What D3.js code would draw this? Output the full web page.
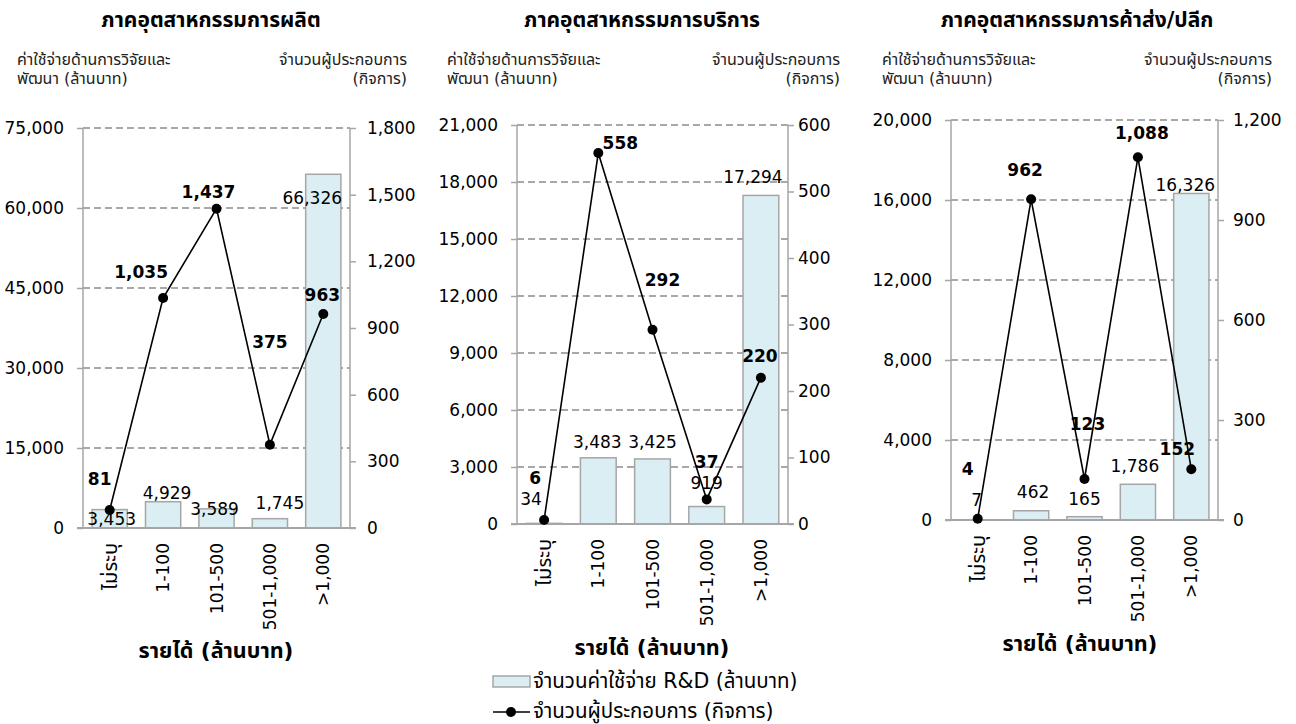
<!DOCTYPE html>
<html>
<head>
<meta charset="utf-8">
<script src="https://cdn.jsdelivr.net/npm/d3@7"></script>
<style>
  html, body { margin: 0; padding: 0; background: #ffffff; }
  svg { display: block; font-family: "DejaVu Sans", "Noto Sans Thai", "Noto Sans", sans-serif; }
</style>
</head>
<body>
<svg id="chart" width="1296" height="724"></svg>
<script>
// Revenue bands (million baht)
const categories = ["ไม่ระบุ", "1-100", "101-500", "501-1,000", ">1,000"];

const panelTitles = ["ภาคอุตสาหกรรมการผลิต", "ภาคอุตสาหกรรมการบริการ", "ภาคอุตสาหกรรมการค้าส่ง/ปลีก"];

// R&D spending (million baht) per revenue band
const rdManufacturing = [3453, 4929, 3589, 1745, 66326];
const rdServices      = [34, 3483, 3425, 919, 17294];
const rdTrade         = [7, 462, 165, 1786, 16326];

// Number of firms per revenue band
const firmsManufacturing = [81, 1035, 1437, 375, 963];
const firmsServices      = [6, 558, 292, 37, 220];
const firmsTrade         = [4, 962, 123, 1088, 152];

// Axis ticks
const leftTicksManufacturing  = [0, 15000, 30000, 45000, 60000, 75000];
const leftTicksServices       = [0, 3000, 6000, 9000, 12000, 15000, 18000, 21000];
const leftTicksTrade          = [0, 4000, 8000, 12000, 16000, 20000];
const rightTicksManufacturing = [0, 300, 600, 900, 1200, 1500, 1800];
const rightTicksServices      = [0, 100, 200, 300, 400, 500, 600];
const rightTicksTrade         = [0, 300, 600, 900, 1200];

const leftAxisNote  = ["ค่าใช้จ่ายด้านการวิจัยและ", "พัฒนา (ล้านบาท)"];
const rightAxisNote = ["จำนวนผู้ประกอบการ", "(กิจการ)"];
const xAxisTitle = "รายได้ (ล้านบาท)";
const legendBar  = "จำนวนค่าใช้จ่าย R&D (ล้านบาท)";
const legendLine = "จำนวนผู้ประกอบการ (กิจการ)";

const panels = [
  { title: panelTitles[0], bars: rdManufacturing, line: firmsManufacturing, leftTicks: leftTicksManufacturing, rightTicks: rightTicksManufacturing },
  { title: panelTitles[1], bars: rdServices,      line: firmsServices,      leftTicks: leftTicksServices,      rightTicks: rightTicksServices },
  { title: panelTitles[2], bars: rdTrade,         line: firmsTrade,         leftTicks: leftTicksTrade,         rightTicks: rightTicksTrade }
];

// Plot frames and text placement for each panel
const layout = [
  { x0: 83,  x1: 350,  y0: 128, y1: 528, titleX: 211,  noteL: 17,  noteR: 407,  xTitleX: 216,  xTitleY: 650, rightGap: 17 },
  { x0: 517, x1: 788,  y0: 125, y1: 524, titleX: 642,  noteL: 447, noteR: 840,  xTitleX: 652,  xTitleY: 647, rightGap: 10 },
  { x0: 951, x1: 1218, y0: 120, y1: 520, titleX: 1077, noteL: 882, noteR: 1272, xTitleX: 1080, xTitleY: 643, rightGap: 15 }
];

// Data label nudges [dx, dy] from the point / bar top
const lineLabelNudge = [
  [[-10, -31], [-22, -26], [-8, -17], [0, -103], [-1, -19]],
  [[-9, -42], [22, -10], [10, -50], [0, -37], [-1, -22]],
  [[-10, -50], [-6, -29], [3, -55], [4, -24], [-14, -20]]
];
const barLabelNudge = [
  [[2, 9], [4, -9], [-2, 0], [10, -16], [-11, 24]],
  [[-13, -24], [-1, -16], [0, -17], [0, -24], [-8, -18]],
  [[-1, -20], [2, -19], [0, -18], [-3, -18], [-6, -8]]
];

const FONT = '"DejaVu Sans", "Noto Sans Thai", "Noto Sans", sans-serif';
const fmt = d3.format(",");
const isThai = s => /[\u0E00-\u0E7F]/.test(s);
const svg = d3.select("#chart");

const AXIS = "#a6a6a6";
const GRID = "#8c8c8c";
const BAR_FILL = "#daeef3";

panels.forEach((p, i) => {
  const L = layout[i];
  const g = svg.append("g");

  const x = d3.scaleBand().domain(categories).range([L.x0, L.x1]).paddingInner(0.34).paddingOuter(0.17);
  const yL = d3.scaleLinear().domain([0, d3.max(p.leftTicks)]).range([L.y1, L.y0]);
  const yR = d3.scaleLinear().domain([0, d3.max(p.rightTicks)]).range([L.y1, L.y0]);
  const cx = c => x(c) + x.bandwidth() / 2;

  // Title and axis notes
  g.append("text").attr("x", L.titleX).attr("y", 20).attr("text-anchor", "middle")
    .attr("dominant-baseline", "central").attr("font-size", 21).attr("font-weight", "bold")
    .attr("fill", "#000").text(p.title);
  leftAxisNote.forEach((t, k) => {
    g.append("text").attr("x", L.noteL).attr("y", 59 + k * 19).attr("dominant-baseline", "central")
      .attr("font-size", 16).attr("fill", "#222").text(t);
  });
  rightAxisNote.forEach((t, k) => {
    g.append("text").attr("x", L.noteR).attr("y", 59 + k * 19).attr("text-anchor", "end")
      .attr("dominant-baseline", "central").attr("font-size", 16).attr("fill", "#222").text(t);
  });

  // Dashed gridlines on the left-axis ticks
  g.append("g").selectAll("line").data(p.leftTicks.filter(v => v > 0)).join("line")
    .attr("x1", L.x0).attr("x2", L.x1)
    .attr("y1", d => yL(d)).attr("y2", d => yL(d))
    .attr("stroke", GRID).attr("stroke-width", 1.3).attr("stroke-dasharray", "7,4");

  // Bars
  g.append("g").selectAll("rect").data(p.bars).join("rect")
    .attr("x", (d, j) => x(categories[j]))
    .attr("y", d => yL(d))
    .attr("width", x.bandwidth())
    .attr("height", d => yL(0) - yL(d))
    .attr("fill", BAR_FILL).attr("stroke", AXIS).attr("stroke-width", 1.5);

  // Left axis
  const leftAxis = d3.axisLeft(yL).tickValues(p.leftTicks).tickFormat(fmt).tickSize(6).tickPadding(13);
  const la = g.append("g").attr("transform", `translate(${L.x0},0)`).call(leftAxis).attr("font-family", FONT);
  la.select(".domain").attr("stroke", AXIS).attr("stroke-width", 1.5).attr("d", `M0,${L.y0}V${L.y1}`);
  la.selectAll(".tick line").attr("stroke", AXIS).attr("stroke-width", 1.5);
  la.selectAll(".tick text").attr("font-size", 17).attr("fill", "#000");

  // Right axis
  const rightAxis = d3.axisRight(yR).tickValues(p.rightTicks).tickFormat(fmt).tickSize(6).tickPadding(L.rightGap - 6);
  const ra = g.append("g").attr("transform", `translate(${L.x1},0)`).call(rightAxis).attr("font-family", FONT);
  ra.select(".domain").attr("stroke", AXIS).attr("stroke-width", 1.5).attr("d", `M0,${L.y0}V${L.y1}`);
  ra.selectAll(".tick line").attr("stroke", AXIS).attr("stroke-width", 1.5);
  ra.selectAll(".tick text").attr("font-size", 17).attr("fill", "#000");

  // Category axis
  const bottomAxis = d3.axisBottom(x).tickSize(0).tickPadding(0);
  const ba = g.append("g").attr("transform", `translate(0,${L.y1})`).call(bottomAxis).attr("font-family", FONT);
  ba.select(".domain").attr("stroke", AXIS).attr("stroke-width", 2).attr("d", `M${L.x0 - 6},0H${L.x1 + 6}`);
  ba.selectAll(".tick text")
    .attr("transform", "translate(0,15) rotate(-90)")
    .attr("x", 0).attr("y", 0).attr("dy", null)
    .attr("text-anchor", "end").attr("dominant-baseline", "central")
    .attr("font-size", d => isThai(d) ? 20 : 17).attr("fill", "#000");

  g.append("text").attr("x", L.xTitleX).attr("y", L.xTitleY).attr("text-anchor", "middle")
    .attr("dominant-baseline", "central").attr("font-size", 21.5).attr("font-weight", "bold")
    .attr("fill", "#000").text(xAxisTitle);

  // Bar value labels
  g.append("g").selectAll("text").data(p.bars).join("text")
    .attr("x", (d, j) => cx(categories[j]) + barLabelNudge[i][j][0])
    .attr("y", d => yL(d))
    .attr("dy", (d, j) => barLabelNudge[i][j][1])
    .attr("text-anchor", "middle").attr("dominant-baseline", "central")
    .attr("font-size", 17).attr("fill", "#000").text(d => fmt(d));

  // Firm-count line
  const line = d3.line().x((d, j) => cx(categories[j])).y(d => yR(d));
  g.append("path").datum(p.line).attr("d", line)
    .attr("fill", "none").attr("stroke", "#000").attr("stroke-width", 1.6);
  g.append("g").selectAll("circle").data(p.line).join("circle")
    .attr("cx", (d, j) => cx(categories[j])).attr("cy", d => yR(d)).attr("r", 5).attr("fill", "#000");

  g.append("g").selectAll("text").data(p.line).join("text")
    .attr("x", (d, j) => cx(categories[j]) + lineLabelNudge[i][j][0])
    .attr("y", d => yR(d))
    .attr("dy", (d, j) => lineLabelNudge[i][j][1])
    .attr("text-anchor", "middle").attr("dominant-baseline", "central")
    .attr("font-size", 17).attr("font-weight", "bold").attr("fill", "#000").text(d => fmt(d));
});

// Legend
const lg = svg.append("g");
lg.append("rect").attr("x", 493).attr("y", 676).attr("width", 37).attr("height", 11)
  .attr("fill", BAR_FILL).attr("stroke", AXIS).attr("stroke-width", 1.5);
lg.append("text").attr("x", 533).attr("y", 681).attr("dominant-baseline", "central")
  .attr("font-size", 20.5).attr("fill", "#000").text(legendBar);
lg.append("line").attr("x1", 493).attr("x2", 530).attr("y1", 712).attr("y2", 712)
  .attr("stroke", "#000").attr("stroke-width", 1.6);
lg.append("circle").attr("cx", 511).attr("cy", 712).attr("r", 5).attr("fill", "#000");
lg.append("text").attr("x", 533).attr("y", 711).attr("dominant-baseline", "central")
  .attr("font-size", 20.5).attr("fill", "#000").text(legendLine);
</script>
</body>
</html>
